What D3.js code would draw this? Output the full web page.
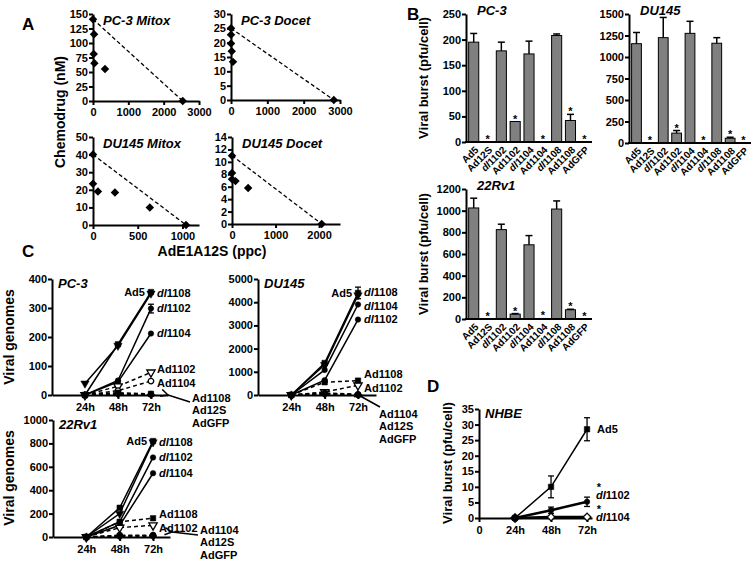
<!DOCTYPE html>
<html><head><meta charset="utf-8">
<script src="https://cdn.jsdelivr.net/npm/d3@7"></script>
<style>body{margin:0;background:#fff;}svg{display:block;}</style>
</head><body>
<script>
// ---------------- DATA ----------------
// Panel A (isobolograms): x = AdE1A12S (ppc), y = chemodrug (nM)
const aPC3MitoxX = [0, 30, 20, 40, 340, 2540];
const aPC3MitoxY = [141, 115, 81, 65, 55, 0];
const aPC3DocetX = [0, 0, 0, 20, 55, 2830];
const aPC3DocetY = [25, 22.8, 19.7, 17, 13.3, 0];
const aDU145MitoxX = [0, 0, 55, 245, 635, 1040];
const aDU145MitoxY = [40, 23.5, 19, 18.5, 10, 0];
const aDU145DocetX = [0, 0, 0, 80, 370, 2060];
const aDU145DocetY = [11, 8.2, 7.2, 6.9, 5.8, 0];

// Panel B (bar charts)
const bCategories = ["Ad5","Ad12S","dl1102","Ad1102","dl1104","Ad1104","dl1108","Ad1108","AdGFP"];
const bPC3     = [195, 0, 178, 40, 172, 0, 208, 42, 0];
const bPC3Err  = [17, 0, 17, 0, 25, 0, 3, 12, 0];
const bDU145   = [1155, 0, 1225, 115, 1275, 0, 1160, 55, 0];
const bDU145Err= [130, 0, 235, 30, 140, 0, 65, 12, 0];
const b22Rv1   = [1025, 0, 825, 45, 685, 5, 1015, 85, 0];
const b22Rv1Err= [90, 0, 50, 5, 85, 0, 75, 5, 0];
const bStars   = [false, true, false, true, false, true, false, true, true];
const bPC3Ticks = [0,50,100,150,200,250];
const bDU145Ticks = [0,250,500,750,1000,1250,1500];
const b22Rv1Ticks = [0,200,400,600,800,1000,1200];

// Panel C (viral genomes over time)
const cTimes = [24, 48, 72];
const cTimeLabels = ["24h","48h","72h"];
const cSeries = ["Ad5","dl1108","dl1102","dl1104","Ad1102","Ad1104","Ad1108","Ad12S","AdGFP"];
const cPC3 = [[0,175,355],[40,170,350],[0,50,298],[0,45,212],[0,30,78],[0,15,48],[0,8,4],[0,5,2],[0,3,1]];
const cPC3Err = [[0,0,0],[0,0,0],[0,0,15],[0,0,0],[0,0,0],[0,0,0],[0,0,0],[0,0,0],[0,0,0]];
const cDU145 = [[0,1380,4400],[0,1300,4300],[0,640,3250],[0,1080,3900],[0,130,420],[0,90,30],[0,550,620],[0,60,20],[0,40,10]];
const cDU145Err = [[0,0,250],[0,0,0],[0,0,0],[0,0,0],[0,0,0],[0,0,0],[0,0,0],[0,0,0],[0,0,0]];
const c22Rv1 = [[0,250,820],[0,200,810],[0,130,680],[0,100,545],[0,80,100],[0,15,15],[0,130,160],[0,10,12],[0,5,8]];
const c22Rv1Err = [[0,0,0],[0,0,0],[0,0,0],[0,0,0],[0,0,0],[0,0,0],[0,0,0],[0,0,0],[0,0,0]];
const cPC3Ticks = [0,100,200,300,400];
const cDU145Ticks = [0,1000,2000,3000,4000,5000];
const c22Rv1Ticks = [0,200,400,600,800,1000];

// Panel D (NHBE viral burst)
const dSeries = ["Ad5","dl1102","dl1104"];
const dValues = [[0,10,28.5],[0,2.5,5.2],[0,0.3,0.3]];
const dErr = [[0,3.5,3.7],[0,1,1.5],[0,0,0]];
const dStarred = [false, true, true];
const dTicks = [0,5,10,15,20,25,30,35];

// ---------------- DRAWING ----------------
const FONT = "'Liberation Sans', Arial, Helvetica, sans-serif";
const svg = d3.select("body").append("svg").attr("width",754).attr("height",561)
  .attr("font-family",FONT);
svg.append("rect").attr("width",754).attr("height",561).attr("fill","#fff");
const defs = svg.append("defs");
defs.append("marker").attr("id","arr").attr("viewBox","0 0 10 10").attr("refX",1).attr("refY",5)
  .attr("markerUnits","userSpaceOnUse").attr("markerWidth",9).attr("markerHeight",9).attr("orient","auto-start-reverse")
  .append("path").attr("d","M9,1 L1,5 L9,9").attr("fill","none").attr("stroke","#000").attr("stroke-width",1.6);

function label(x, y, s, o = {}) {
  const t = svg.append("text").attr("x",x).attr("y",y)
    .attr("font-size",o.size||11).attr("font-weight","bold")
    .attr("text-anchor",o.anchor||"start").attr("fill","#000");
  if (o.dy) t.attr("dy",o.dy);
  if (o.rotate!=null) t.attr("transform",`rotate(${o.rotate},${x},${y})`);
  if (o.italic) t.attr("font-style","italic");
  let shift = 0;
  if (o.star) { t.append("tspan").attr("dy",-8).attr("font-size",11).text("*"); shift = 8; }
  if (s.startsWith("dl")) {
    const a = t.append("tspan").attr("font-style","italic").text("dl");
    if (o.star) a.attr("dx",-5).attr("dy",shift);
    t.append("tspan").text(s.slice(2));
  } else t.text(s);
  return t;
}
function seg(x1,y1,x2,y2,w,dash){
  const l = svg.append("line").attr("x1",x1).attr("y1",y1).attr("x2",x2).attr("y2",y2)
    .attr("stroke","#000").attr("stroke-width",w||1.5);
  if (dash) l.attr("stroke-dasharray",dash);
  return l;
}
function drawAxis(gen, tx, ty, fs) {
  const g = svg.append("g").attr("transform",`translate(${tx},${ty})`).call(gen);
  g.attr("font-family",FONT).attr("font-size",fs||11).attr("font-weight","bold");
  g.select(".domain").attr("stroke","#000").attr("stroke-width",2);
  g.selectAll(".tick line").attr("stroke","#000").attr("stroke-width",2);
  g.selectAll(".tick text").attr("fill","#000");
  return g;
}

// ----- Panel A -----
function scatterPanel(p, xs, ys, xTicks, yTicks, title) {
  const x = d3.scaleLinear().domain([0,p.xMax]).range([p.l,p.r]);
  const y = d3.scaleLinear().domain([0,p.yMax]).range([p.b,p.t]);
  drawAxis(d3.axisBottom(x).tickValues(xTicks).tickSize(4).tickPadding(3).tickSizeOuter(0).tickFormat(d3.format("d")), 0, p.b);
  drawAxis(d3.axisLeft(y).tickValues(yTicks).tickSize(4).tickPadding(1).tickSizeOuter(0).tickFormat(d3.format("d")), p.l, 0);
  const n = xs.length-1;
  seg(x(xs[0]),y(ys[0]),x(xs[n]),y(ys[n]),1.3,"4,2.5");
  svg.append("g").selectAll("path").data(xs.map((d,i)=>[d,ys[i]])).join("path")
    .attr("d", d3.symbol(d3.symbolSquare, 36))
    .attr("transform", d=>`translate(${x(d[0])},${y(d[1])}) rotate(45)`).attr("fill","#000");
  label(p.l+10, p.t+11, title, {size:13, italic:true});
}
label(22, 30, "A", {size:17});
scatterPanel({l:93,r:199,t:14,b:101,xMax:3000,yMax:150}, aPC3MitoxX, aPC3MitoxY, [0,1000,2000,3000], [0,25,50,75,100,125,150], "PC-3 Mitox");
scatterPanel({l:231,r:340,t:14,b:100,xMax:3000,yMax:30}, aPC3DocetX, aPC3DocetY, [0,1000,2000,3000], [0,5,10,15,20,25,30], "PC-3 Docet");
scatterPanel({l:93,r:199,t:137,b:225,xMax:1185,yMax:50}, aDU145MitoxX, aDU145MitoxY, [0,500,1000], [0,10,20,30,40,50], "DU145 Mitox");
scatterPanel({l:232,r:340,t:137,b:224,xMax:2480,yMax:14}, aDU145DocetX, aDU145DocetY, [0,1000,2000], [0,2,4,6,8,10,12,14], "DU145 Docet");
label(65, 112, "Chemodrug (nM)", {size:14, anchor:"middle", rotate:-90});
label(212, 256, "AdE1A12S (ppc)", {size:14, anchor:"middle"});

// ----- Panel B -----
function barPanel(p, vals, errs, ticks, title) {
  const x = d3.scaleBand().domain(bCategories).range([p.l+1,p.r-1]).paddingInner(0.27).paddingOuter(0.12);
  const y = d3.scaleLinear().domain([0,p.yMax]).range([p.b,p.t]);
  const data = bCategories.map((c,i)=>({c, v:vals[i], e:errs[i], s:bStars[i]}));
  svg.append("g").selectAll("rect").data(data.filter(d=>d.v>0)).join("rect")
    .attr("x",d=>x(d.c)).attr("y",d=>y(d.v)).attr("width",x.bandwidth()).attr("height",d=>y(0)-y(d.v))
    .attr("fill","#808080").attr("stroke","#000").attr("stroke-width",1);
  data.forEach(d=>{
    const cx = x(d.c)+x.bandwidth()/2;
    if (d.e>0) { seg(cx,y(d.v),cx,y(d.v+d.e),1.5); seg(cx-3.5,y(d.v+d.e),cx+3.5,y(d.v+d.e),1.5); }
    if (d.s) label(cx, y(d.v+d.e)+1, "*", {size:11, anchor:"middle"});
    label(cx+3, p.b+6, d.c, {size:10, anchor:"end", rotate:-45, dy:"0.35em"});
  });
  drawAxis(d3.axisLeft(y).tickValues(ticks).tickSize(4).tickPadding(1).tickSizeOuter(0).tickFormat(d3.format("d")), p.l, 0);
  seg(p.l-1, p.b, p.r, p.b, 2);
  label(p.l+11, p.t+1, title, {size:13, italic:true});
}
label(407, 20, "B", {size:17});
barPanel({l:466,r:592,t:14,b:142,yMax:250}, bPC3, bPC3Err, bPC3Ticks, "PC-3");
barPanel({l:629,r:751,t:14,b:143,yMax:1500}, bDU145, bDU145Err, bDU145Ticks, "DU145");
barPanel({l:466,r:592,t:189,b:319,yMax:1200}, b22Rv1, b22Rv1Err, b22Rv1Ticks, "22Rv1");
label(428, 78, "Viral burst (pfu/cell)", {size:13, anchor:"middle", rotate:-90});
label(428, 254, "Viral burst (pfu/cell)", {size:13, anchor:"middle", rotate:-90});

// ----- Line panels (C and D) -----
const cStyle = {
  Ad5:{sym:"square",fill:true}, dl1108:{sym:"tri",fill:true}, dl1102:{sym:"circle",fill:true},
  dl1104:{sym:"circle",fill:true}, Ad1102:{sym:"tri",fill:false,dash:true}, Ad1104:{sym:"circle",fill:false,dash:true},
  Ad1108:{sym:"square",fill:true,dash:true}, Ad12S:{sym:"circle",fill:true,dash:true}, AdGFP:{sym:"diamond",fill:true,dash:true}
};
function symPath(sym){
  if (sym==="square") return {d:d3.symbol(d3.symbolSquare,30)(), r:0};
  if (sym==="circle") return {d:d3.symbol(d3.symbolCircle,24)(), r:0};
  if (sym==="tri") return {d:d3.symbol(d3.symbolTriangle,30)(), r:180};
  return {d:d3.symbol(d3.symbolSquare,30)(), r:45};
}
function linePanel(p, series, vals, errs, styles, ticks, title, lw) {
  const x = d3.scaleLinear().domain([0,p.xMax]).range([p.l,p.r]);
  const y = d3.scaleLinear().domain([0,p.yMax]).range([p.b,p.t]);
  const line = d3.line();
  series.forEach((s,i)=>{
    const pts = cTimes.map((t,j)=>[x(t), y(vals[i][j])]);
    const path = svg.append("path").attr("d", line(pts)).attr("fill","none").attr("stroke","#000")
      .attr("stroke-width", (lw && lw[i]) || 1.5);
    if (styles[s].dash) path.attr("stroke-dasharray","4,3");
  });
  drawAxis(d3.axisBottom(x).tickValues(p.xTicks||cTimes).tickSize(4).tickPadding(4).tickSizeOuter(0)
    .tickFormat(t=> t===0 ? "0" : cTimeLabels[cTimes.indexOf(t)]), 0, p.b);
  drawAxis(d3.axisLeft(y).tickValues(ticks).tickSize(4).tickPadding(1).tickSizeOuter(0).tickFormat(d3.format("d")), p.l, 0);
  series.forEach((s,i)=>{
    cTimes.forEach((t,j)=>{
      const e = errs[i][j];
      if (e>0) {
        const cx = x(t);
        seg(cx,y(vals[i][j]-e),cx,y(vals[i][j]+e),1.3);
        seg(cx-3,y(vals[i][j]+e),cx+3,y(vals[i][j]+e),1.3);
        seg(cx-3,y(vals[i][j]-e),cx+3,y(vals[i][j]-e),1.3);
      }
    });
  });
  series.forEach((s,i)=>{
    const st = styles[s], sp = symPath(st.sym);
    cTimes.forEach((t,j)=>{
      svg.append("path").attr("d",sp.d)
        .attr("transform",`translate(${x(t)},${y(vals[i][j])}) rotate(${sp.r})`)
        .attr("fill", st.fill ? "#000" : "#fff").attr("stroke","#000").attr("stroke-width", st.fill?0.5:1.3);
    });
  });
  label(p.l+6, p.t+9, title, {size:13, italic:true});
  return {x, y};
}
function seriesLabels(sc, series, vals, items) {
  items.forEach(it=>{
    const i = series.indexOf(it.s);
    const px = sc.x(72), py = sc.y(vals[i][2]) + (it.dy||0);
    if (it.left) label(px-6, py, it.s, {anchor:"end", dy:"0.35em"});
    else label(px+6, py, it.s, {dy:"0.35em"});
  });
}
function groupLabels(x, y0, names, ax1, ay1, ax2, ay2) {
  names.forEach((n,k)=>label(x, y0 + k*12.5, n, {dy:"0.35em"}));
  svg.append("line").attr("x1",ax1).attr("y1",ay1).attr("x2",ax2).attr("y2",ay2)
    .attr("stroke","#000").attr("stroke-width",1.6).attr("marker-end","url(#arr)");
}

label(22, 257, "C", {size:17});
const sc1 = linePanel({l:52,r:168,t:279,b:395,xMax:84.4,yMax:400}, cSeries, cPC3, cPC3Err, cStyle, cPC3Ticks, "PC-3");
seriesLabels(sc1, cSeries, cPC3, [{s:"Ad5",left:true},{s:"dl1108"},{s:"dl1102"},{s:"dl1104"},{s:"Ad1102",dy:-3},{s:"Ad1104",dy:2}]);
groupLabels(192, 398, ["Ad1108","Ad12S","AdGFP"], 190, 402, 168, 395);

const sc2 = linePanel({l:258,r:376,t:279,b:395,xMax:84.96,yMax:5000}, cSeries, cDU145, cDU145Err, cStyle, cDU145Ticks, "DU145");
seriesLabels(sc2, cSeries, cDU145, [{s:"Ad5",left:true},{s:"dl1108",dy:-3},{s:"dl1104",dy:2},{s:"dl1102"},{s:"Ad1108",dy:-6},{s:"Ad1102",dy:3}]);
groupLabels(379, 414, ["Ad1104","Ad12S","AdGFP"], 380, 407, 362, 397);

const sc3 = linePanel({l:53,r:170,t:420,b:537,xMax:84.2,yMax:1000}, cSeries, c22Rv1, c22Rv1Err, cStyle, c22Rv1Ticks, "22Rv1");
seriesLabels(sc3, cSeries, c22Rv1, [{s:"Ad5",left:true},{s:"dl1108"},{s:"dl1102"},{s:"dl1104"},{s:"Ad1108",dy:-4},{s:"Ad1102",dy:3}]);
groupLabels(200, 530, ["Ad1104","Ad12S","AdGFP"], 198, 535, 172, 532);

label(14, 337, "Viral genomes", {size:14, anchor:"middle", rotate:-90});
label(14, 478, "Viral genomes", {size:14, anchor:"middle", rotate:-90});

// ----- Panel D -----
const dStyle = {Ad5:{sym:"square",fill:true}, dl1102:{sym:"circle",fill:true}, dl1104:{sym:"diamond",fill:false}};
label(427, 392, "D", {size:17});
const sd = linePanel({l:479,r:592,t:409,b:518,xMax:75.3,yMax:35,xTicks:[0,24,48,72]}, dSeries, dValues, dErr, dStyle, dTicks, "NHBE", [1.5,2.5,2.5]);
svg.append("path").attr("d", d3.symbol(d3.symbolSquare,50)()).attr("transform",`translate(${sd.x(24)},${sd.y(0)}) rotate(45)`).attr("fill","#000");
label(sd.x(72)+10, sd.y(dValues[0][2]), dSeries[0], {dy:"0.35em"});
label(sd.x(72)+9, sd.y(dValues[1][2])-3, dSeries[1], {star:dStarred[1]});
label(sd.x(72)+9, sd.y(dValues[2][2])+4, dSeries[2], {star:dStarred[2]});
label(452, 463, "Viral burst (pfu/cell)", {size:13, anchor:"middle", rotate:-90});
</script>
</body></html>
